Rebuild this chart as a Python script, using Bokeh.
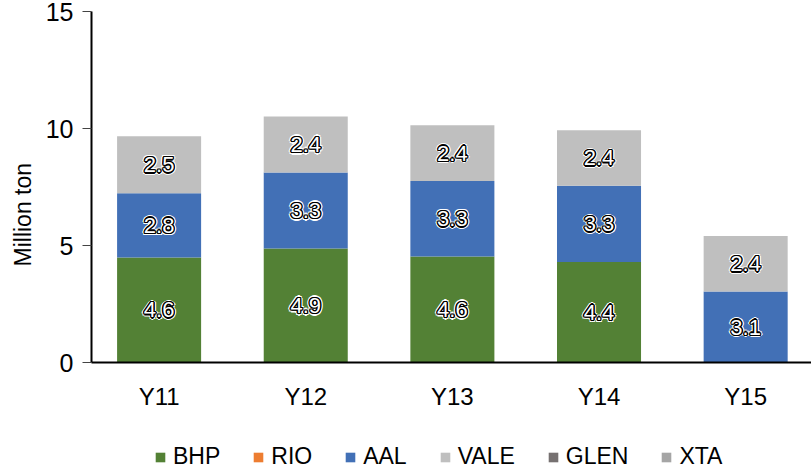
import math
from bokeh.plotting import figure
from bokeh.layouts import column
from bokeh.models import ColumnDataSource, FixedTicker, Legend, LegendItem, Title, Range1d
from bokeh.core.properties import value
from bokeh.embed import file_html
from bokeh.resources import INLINE

years = ["Y11", "Y12", "Y13", "Y14", "Y15"]
series = ["BHP", "RIO", "AAL", "VALE", "GLEN", "XTA"]
bhp = [4.49, 4.87, 4.53, 4.30, 0.0]
rio = [0.0, 0.0, 0.0, 0.0, 0.0]
aal = [2.74, 3.25, 3.23, 3.25, 3.03]
vale = [2.44, 2.39, 2.38, 2.38, 2.38]
glen = [0.0, 0.0, 0.0, 0.0, 0.0]
xta = [0.0, 0.0, 0.0, 0.0, 0.0]
bhp_labels = ["4.6", "4.9", "4.6", "4.4", ""]
aal_labels = ["2.8", "3.3", "3.3", "3.3", "3.1"]
vale_labels = ["2.5", "2.4", "2.4", "2.4", "2.4"]
y_ticks = [0, 5, 10, 15]

colors = ["#538135", "#ED7D31", "#4270B6", "#BFBFBF", "#767171", "#A5A5A5"]
FONT = "Liberation Sans"

xs = list(range(len(years)))
src = ColumnDataSource(dict(x=xs, BHP=bhp, RIO=rio, AAL=aal, VALE=vale, GLEN=glen, XTA=xta))

p = figure(width=811, height=440, output_backend="svg", toolbar_location=None,
           x_range=Range1d(-0.461, 4.449), y_range=Range1d(0, 15),
           min_border_left=91, min_border_right=0, min_border_top=11, min_border_bottom=78)
p.outline_line_color = None
p.xgrid.visible = False
p.ygrid.visible = False
p.background_fill_color = "white"

rends = p.vbar_stack(series, x="x", width=0.573, color=colors, line_color=None, source=src)

# segment labels
lx, ly, lt = [], [], []
for i in xs:
    base = 0.0
    for vals, labs in ((bhp, bhp_labels), (None, None), (aal, aal_labels), (vale, vale_labels)):
        if vals is None:
            base += rio[i]
            continue
        if labs[i]:
            lx.append(i)
            ly.append(base + vals[i] / 2.0)
            lt.append(labs[i])
        base += vals[i]
lsrc = ColumnDataSource(dict(x=lx, y=ly, t=lt))

def add_text(color, dx, dy):
    p.text(x="x", y="y", text="t", source=lsrc, text_align="center", text_baseline="middle",
           text_font=value(FONT), text_font_size="22px", text_color=color,
           x_offset=dx, y_offset=dy)

for k in range(8):
    a = 2 * math.pi * k / 8
    add_text("white", 2.6 * math.cos(a), 2.6 * math.sin(a))
for k in range(8):
    a = 2 * math.pi * k / 8
    add_text("black", 1.4 * math.cos(a), 1.4 * math.sin(a))
add_text("white", 0, 0)

# axes
xa = p.xaxis[0]
xa.ticker = FixedTicker(ticks=xs)
xa.major_label_overrides = {i: y for i, y in enumerate(years)}
xa.major_tick_out = 0
xa.major_tick_in = 0
xa.minor_tick_line_color = None
xa.axis_line_color = "black"
xa.axis_line_width = 2
xa.major_label_standoff = 20
xa.major_label_text_font = FONT
xa.major_label_text_font_size = "24px"
xa.major_label_text_color = "black"

ya = p.yaxis[0]
ya.ticker = FixedTicker(ticks=y_ticks)
ya.major_tick_out = 9
ya.major_tick_in = 0
ya.minor_tick_line_color = None
ya.axis_line_color = "black"
ya.axis_line_width = 2
ya.major_tick_line_color = "#444444"
ya.major_label_standoff = 9
ya.major_label_text_font = FONT
ya.major_label_text_font_size = "25px"
ya.major_label_text_color = "black"

p.add_layout(Title(text="Million ton", align="left", offset=96, standoff=14,
                   text_font=FONT, text_font_size="23px", text_font_style="normal",
                   text_color="black"), "left")

# legend strip (separate small figure placed directly under the chart)
pl = figure(width=811, height=32, output_backend="svg", toolbar_location=None,
            x_range=Range1d(0, 1), y_range=Range1d(0, 1),
            min_border_left=0, min_border_right=0, min_border_top=0, min_border_bottom=0)
pl.axis.visible = False
pl.xgrid.visible = False
pl.ygrid.visible = False
pl.outline_line_color = None
# legend proxies: zero-height swatches so the legend can draw its glyphs
proxy = ColumnDataSource(dict(x=[-5.0], top=[0.0]))
lrends = [pl.vbar(x="x", top="top", width=0.5, color=c, line_color=None, source=proxy)
          for c in colors]
items = [LegendItem(label=s, renderers=[r]) for s, r in zip(series, lrends)]
legend = Legend(items=items, orientation="horizontal", location=(63, 2),
                label_text_font=FONT, label_text_font_size="23px", label_text_color="black",
                glyph_width=12, glyph_height=12, label_standoff=7, spacing=32,
                padding=0, margin=0, border_line_color=None, background_fill_alpha=0)
pl.add_layout(legend)

layout = column(p, pl, spacing=0)
open("out.html", "w").write(file_html(layout, INLINE))
